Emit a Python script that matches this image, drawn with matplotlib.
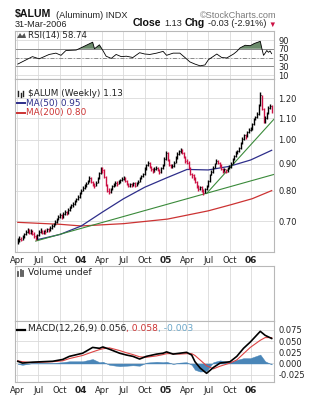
import numpy as np
import pandas as pd
import matplotlib
matplotlib.use('Agg')
import matplotlib.pyplot as plt
import matplotlib.dates as mdates
from matplotlib.lines import Line2D
from matplotlib.patches import Polygon
from matplotlib.text import Annotation
from matplotlib.ticker import NullLocator

# ---------------- data ----------------
week_start = '2003-04-04'
closes = [
    0.640, 0.648, 0.645, 0.652,
    0.660, 0.668, 0.672, 0.665, 0.670,
    0.662, 0.655, 0.650, 0.658,
    0.668, 0.672, 0.665, 0.670,
    0.668, 0.675, 0.672, 0.680, 0.685,
    0.690, 0.698, 0.705, 0.712,
    0.718, 0.712, 0.722, 0.728, 0.725,
    0.735, 0.742, 0.750, 0.755,
    0.762, 0.770, 0.778, 0.790,
    0.800, 0.810, 0.818, 0.825, 0.835,
    0.845, 0.830, 0.822, 0.818,
    0.828, 0.845, 0.865, 0.880,
    0.875, 0.850, 0.820, 0.800, 0.795,
    0.805, 0.815, 0.822, 0.828,
    0.825, 0.832, 0.838, 0.842,
    0.845, 0.835, 0.825, 0.818, 0.822,
    0.820, 0.828, 0.818, 0.825,
    0.832, 0.845, 0.852, 0.860,
    0.880, 0.895, 0.905, 0.890, 0.878,
    0.872, 0.880, 0.885, 0.878,
    0.870, 0.882, 0.895, 0.920, 0.945,
    0.915, 0.895, 0.888, 0.892,
    0.905, 0.925, 0.940, 0.950,
    0.958, 0.945, 0.930, 0.912,
    0.905, 0.885, 0.862, 0.855, 0.848,
    0.832, 0.815, 0.805, 0.812,
    0.800, 0.792, 0.805, 0.815,
    0.835, 0.858, 0.870, 0.885, 0.900,
    0.912, 0.905, 0.895, 0.880,
    0.872, 0.878, 0.870, 0.882, 0.888,
    0.900, 0.918, 0.930, 0.945,
    0.950, 0.965, 0.985, 1.005,
    1.020, 1.015, 1.035, 1.045, 1.050,
    1.070, 1.095, 1.105, 1.120,
    1.165, 1.215, 1.145, 1.085,
    1.100, 1.125, 1.150, 1.160, 1.130,
]
highs = [
    0.650, 0.655, 0.654, 0.658,
    0.664, 0.673, 0.678, 0.676, 0.675,
    0.672, 0.666, 0.658, 0.662,
    0.672, 0.678, 0.674, 0.674,
    0.675, 0.679, 0.678, 0.684, 0.690,
    0.695, 0.703, 0.710, 0.718,
    0.725, 0.722, 0.728, 0.734, 0.732,
    0.740, 0.748, 0.756, 0.762,
    0.768, 0.776, 0.784, 0.796,
    0.806, 0.816, 0.824, 0.832, 0.840,
    0.852, 0.848, 0.834, 0.828,
    0.834, 0.850, 0.870, 0.886,
    0.888, 0.878, 0.852, 0.825, 0.808,
    0.810, 0.820, 0.828, 0.834,
    0.834, 0.838, 0.843, 0.848,
    0.852, 0.848, 0.838, 0.828, 0.828,
    0.828, 0.832, 0.830, 0.830,
    0.838, 0.850, 0.858, 0.866,
    0.886, 0.900, 0.912, 0.908, 0.893,
    0.882, 0.886, 0.892, 0.888,
    0.880, 0.888, 0.900, 0.926, 0.952,
    0.948, 0.920, 0.900, 0.898,
    0.910, 0.930, 0.946, 0.956,
    0.965, 0.960, 0.948, 0.932,
    0.918, 0.910, 0.888, 0.866, 0.860,
    0.850, 0.836, 0.820, 0.818,
    0.815, 0.805, 0.810, 0.820,
    0.840, 0.862, 0.876, 0.890, 0.905,
    0.918, 0.915, 0.908, 0.898,
    0.884, 0.884, 0.880, 0.886, 0.894,
    0.906, 0.922, 0.935, 0.950,
    0.958, 0.970, 0.990, 1.012,
    1.028, 1.026, 1.040, 1.052, 1.058,
    1.078, 1.102, 1.112, 1.128,
    1.172, 1.232, 1.220, 1.150,
    1.110, 1.132, 1.158, 1.172, 1.165,
]
lows = [
    0.632, 0.638, 0.640, 0.643,
    0.650, 0.657, 0.664, 0.660, 0.662,
    0.658, 0.650, 0.644, 0.648,
    0.655, 0.664, 0.660, 0.662,
    0.662, 0.666, 0.667, 0.670, 0.677,
    0.682, 0.688, 0.695, 0.702,
    0.708, 0.706, 0.710, 0.718, 0.718,
    0.722, 0.732, 0.740, 0.746,
    0.752, 0.760, 0.768, 0.775,
    0.788, 0.798, 0.806, 0.814, 0.822,
    0.832, 0.826, 0.816, 0.810,
    0.815, 0.826, 0.842, 0.860,
    0.866, 0.845, 0.815, 0.795, 0.788,
    0.792, 0.802, 0.812, 0.818,
    0.818, 0.822, 0.828, 0.834,
    0.838, 0.830, 0.820, 0.812, 0.814,
    0.814, 0.816, 0.812, 0.815,
    0.822, 0.830, 0.842, 0.848,
    0.858, 0.876, 0.890, 0.885, 0.872,
    0.865, 0.868, 0.876, 0.872,
    0.862, 0.866, 0.878, 0.892, 0.916,
    0.910, 0.890, 0.882, 0.884,
    0.888, 0.902, 0.920, 0.935,
    0.945, 0.940, 0.925, 0.905,
    0.898, 0.880, 0.856, 0.846, 0.840,
    0.826, 0.810, 0.798, 0.802,
    0.794, 0.785, 0.790, 0.802,
    0.812, 0.832, 0.855, 0.866, 0.882,
    0.898, 0.900, 0.888, 0.875,
    0.866, 0.868, 0.864, 0.868, 0.878,
    0.885, 0.898, 0.915, 0.928,
    0.940, 0.948, 0.962, 0.982,
    1.000, 1.005, 1.012, 1.030, 1.038,
    1.045, 1.065, 1.090, 1.100,
    1.115, 1.160, 1.140, 1.075,
    1.078, 1.095, 1.120, 1.145, 1.125,
]

ma50_dates = ['2003-06-27', '2003-10-03', '2004-01-02', '2004-04-02', '2004-07-02',
              '2004-10-01', '2004-12-31', '2005-04-01', '2005-07-01', '2005-09-30',
              '2005-12-30', '2006-03-31']
ma50 = [0.645, 0.660, 0.685, 0.728, 0.772, 0.812, 0.845, 0.878, 0.876, 0.890, 0.915, 0.955]

ma200_dates = ['2003-04-04', '2003-10-03', '2004-01-02', '2004-07-02', '2005-01-07',
               '2005-07-01', '2005-10-07', '2006-01-06', '2006-03-31']
ma200 = [0.696, 0.690, 0.685, 0.692, 0.706, 0.732, 0.752, 0.772, 0.800]

trend1_dates = ['2003-06-20', '2006-04-14']
trend1_vals = [0.641, 0.86]
trend2_dates = ['2005-06-24', '2006-04-14']
trend2_vals = [0.79, 1.10]

rsi_dates = ['2003-04-04', '2003-06-06', '2003-07-05', '2003-08-17', '2003-09-15', '2003-10-07',
             '2003-10-28', '2003-12-11', '2004-01-08', '2004-02-20', '2004-02-28', '2004-03-20',
             '2004-04-04', '2004-04-18', '2004-05-10', '2004-05-31', '2004-06-22', '2004-07-14',
             '2004-08-11', '2004-09-09', '2004-10-01', '2004-10-23', '2004-11-21', '2004-12-19',
             '2005-01-03', '2005-01-31', '2005-03-01', '2005-03-23', '2005-04-13', '2005-05-05',
             '2005-05-27', '2005-06-17', '2005-07-02', '2005-08-07', '2005-08-28', '2005-09-19',
             '2005-10-18', '2005-11-01', '2005-11-15', '2005-12-07', '2005-12-29', '2006-01-15',
             '2006-02-10', '2006-02-17', '2006-02-24', '2006-03-03', '2006-03-10', '2006-03-17',
             '2006-03-24', '2006-03-31']
rsi_vals = [35, 52, 47, 57, 60, 55,
            66, 67, 74, 85, 70, 79,
            66, 53, 48, 57, 52, 53,
            50, 61, 58, 57, 60, 64,
            55, 60, 60, 50, 40, 35,
            31, 33, 45, 58, 50, 49,
            58, 64, 72, 78, 77, 82,
            87, 70, 55, 60, 66, 62, 65, 58.74]

macd_dates = ['2003-04-04', '2003-04-24', '2003-06-06', '2003-07-19', '2003-09-01', '2003-10-14',
              '2003-11-12', '2004-01-08', '2004-02-20', '2004-03-20', '2004-04-04', '2004-05-02',
              '2004-06-15', '2004-07-14', '2004-08-11', '2004-09-09', '2004-10-08', '2004-11-21',
              '2004-12-19', '2005-01-03', '2005-01-31', '2005-03-01', '2005-03-30', '2005-04-21',
              '2005-05-05', '2005-05-27', '2005-06-24', '2005-07-23', '2005-08-21', '2005-10-03',
              '2005-11-01', '2005-11-30', '2005-12-29', '2006-02-10', '2006-03-03', '2006-03-31']
macd_vals = [0.005, 0.001, 0.003, 0.004, 0.005, 0.009,
             0.016, 0.023, 0.036, 0.034, 0.037, 0.032,
             0.023, 0.019, 0.016, 0.010, 0.016, 0.021,
             0.023, 0.026, 0.021, 0.023, 0.025, 0.019,
             0.004, -0.010, -0.022, -0.009, 0.001, 0.004,
             0.016, 0.034, 0.048, 0.072, 0.063, 0.056]
signal_vals = [0.006, 0.004, 0.002, 0.003, 0.004, 0.006,
               0.011, 0.018, 0.026, 0.031, 0.033, 0.035,
               0.029, 0.024, 0.020, 0.015, 0.014, 0.017,
               0.020, 0.022, 0.022, 0.021, 0.022, 0.022,
               0.018, 0.008, -0.005, -0.012, -0.006, 0.001,
               0.008, 0.022, 0.036, 0.052, 0.058, 0.058]

quarter_dates = ['2003-04-01', '2003-07-01', '2003-10-01', '2004-01-01', '2004-04-01', '2004-07-01',
                 '2004-10-01', '2005-01-01', '2005-04-01', '2005-07-01', '2005-10-01', '2006-01-01']
quarter_labels = ['Apr', 'Jul', 'Oct', '04', 'Apr', 'Jul', 'Oct', '05', 'Apr', 'Jul', 'Oct', '06']
price_ticks = [0.70, 0.80, 0.90, 1.00, 1.10, 1.20]
rsi_ticks = [10, 30, 50, 70, 90]
macd_ticks = [-0.025, 0.0, 0.025, 0.050, 0.075]

# ---------------- figure ----------------
W, H = 309, 400
fig = plt.figure(figsize=(W / 100, H / 100), dpi=100)
fig.patch.set_facecolor('white')


def rect(x0, y0, x1, y1):
    return [x0 / W, 1 - y1 / H, (x1 - x0) / W, (y1 - y0) / H]


L, R = 15, 274
ax_rsi = fig.add_axes(rect(L, 31, R, 79))
ax_main = fig.add_axes(rect(L, 79, R, 252))
ax_vol = fig.add_axes(rect(L, 266, R, 321))
ax_macd = fig.add_axes(rect(L, 321, R, 382))

d2n = lambda lst: mdates.date2num(pd.to_datetime(lst))
xmin, xmax = d2n(['2003-03-23'])[0], d2n(['2006-04-10'])[0]
qnum = d2n(quarter_dates)

GRID = '#dadada'
SPINE = '#b8b8b8'
for ax in (ax_rsi, ax_main, ax_vol, ax_macd):
    ax.set_facecolor('white')
    for s in ax.spines.values():
        s.set_color(SPINE)
        s.set_linewidth(0.8)
    ax.set_xlim(xmin, xmax)
    ax.set_xticks(qnum)
    ax.set_xticklabels(quarter_labels)
    ax.xaxis.set_minor_locator(NullLocator())
    ax.yaxis.tick_right()
    ax.tick_params(length=0, labelsize=6, colors='#222222', pad=3)
    ax.grid(True, axis='x', color=GRID, lw=0.6)
    ax.set_axisbelow(True)
    for lab in ax.get_xticklabels():
        if lab.get_text().isdigit():
            lab.set_fontweight('bold')
            lab.set_fontsize(6.5)

for ax in (ax_rsi, ax_vol):
    ax.tick_params(labelbottom=False)
ax_vol.set_yticks([])

# ---- RSI ----
rd = d2n(rsi_dates)
rv = np.array(rsi_vals, dtype=float)
ax_rsi.set_ylim(0.9, 110.6)
ax_rsi.set_yticks(rsi_ticks)
ax_rsi.grid(True, axis='y', color=GRID, lw=0.6)
ax_rsi.axhline(70, color='#8a8a8a', lw=0.7)
ax_rsi.axhline(30, color='#8a8a8a', lw=0.7)
ax_rsi.axhline(50, color='#8a8a8a', lw=0.7, ls=(0, (4, 2, 1, 2)))
ax_rsi.fill_between(rd, rv, 70, where=rv >= 70, interpolate=True, color='#6a8a6a', lw=0)
ax_rsi.plot(rd, rv, color='black', lw=0.6)

# ---- main price ----
wk = d2n(pd.date_range(week_start, periods=len(closes), freq='7D'))
c = np.array(closes)
prev = np.r_[c[0], c[:-1]]
cols = np.where(c >= prev, '#000000', '#cc1144')
ax_main.set_yscale('log')
ax_main.set_ylim(0.611, 1.306)
ax_main.set_yticks(price_ticks)
ax_main.set_yticklabels(['%.2f' % v for v in price_ticks])
ax_main.yaxis.set_minor_locator(NullLocator())
ax_main.grid(True, axis='y', color=GRID, lw=0.6)

ax_main.plot(d2n(ma200_dates), ma200, color='#cc3333', lw=0.9)
ax_main.plot(d2n(ma50_dates), ma50, color='#2e2e8a', lw=0.9)
ax_main.plot(d2n(trend1_dates), trend1_vals, color='#3a8a3a', lw=0.8)
ax_main.plot(d2n(trend2_dates), trend2_vals, color='#3a8a3a', lw=0.8)
ax_main.vlines(wk, lows, highs, colors=cols, lw=1.0)
ax_main.hlines(c, wk, wk + 3, colors=cols, lw=0.7)

# ---- MACD ----
md = d2n(macd_dates)
mv = np.array(macd_vals)
sv = np.array(signal_vals)
hist = mv - sv
ax_macd.set_ylim(-0.0414, 0.0951)
ax_macd.set_yticks(macd_ticks)
ax_macd.set_yticklabels(['%.3f' % v for v in macd_ticks])
ax_macd.grid(True, axis='y', color=GRID, lw=0.6)
ax_macd.fill_between(md, hist, 0, color='#4a86b8', lw=0.3, edgecolor='#4a86b8')
ax_macd.plot(md, sv, color='#dd4444', lw=0.8)
ax_macd.plot(md, mv, color='black', lw=1.2)

# ---------------- texts ----------------
def fx(x):
    return x / W


def fy(y):
    return 1 - y / H


def chain(x, y, pieces, family):
    s, col, w, sz, gap = pieces[0]
    t = fig.text(fx(x), fy(y), s, color=col, fontweight=w, fontsize=sz, family=family, va='bottom')
    for s, col, w, sz, gap in pieces[1:]:
        a = Annotation(s, xy=(1, 0), xycoords=t, xytext=(gap, 0), textcoords='offset points',
                       color=col, fontweight=w, fontsize=sz, family=family, va='bottom')
        fig.add_artist(a)
        t = a
    return t


SANS = ['Liberation Sans', 'DejaVu Sans']
fig.text(fx(15), fy(17.5), '$ALUM', fontsize=7.6, fontweight='bold', family=SANS, va='baseline', color='#111111')
fig.text(fx(55.5), fy(17.5), '(Aluminum) INDX', fontsize=6.6, family=SANS, va='baseline', color='#222222')
fig.text(fx(276), fy(17.5), '\u00a9StockCharts.com', fontsize=6.6, family=SANS, va='baseline', ha='right',
         color='#7a7a7a')
fig.text(fx(15), fy(27), '31-Mar-2006', fontsize=6.6, family=SANS, va='baseline', color='#222222')
chain(133, 28.5, [('Close', '#111111', 'bold', 7.6, 0), ('1.13', '#222222', 'normal', 6.6, 1.8),
                  ('Chg', '#111111', 'bold', 7.6, 2.2), ('-0.03 (-2.91%)', '#222222', 'normal', 6.6, 1.8),
                  ('\u25bc', '#cc1144', 'normal', 5.5, 2.0)], SANS)

# RSI legend
fig.add_artist(Polygon([[fx(17), fy(38)], [fx(20), fy(33)], [fx(22), fy(36)], [fx(24.5), fy(33)],
                        [fx(26), fy(38)]], closed=True, color='#555555', lw=0))
fig.text(fx(28), fy(35.5), 'RSI(14) 58.74', fontsize=6.2, va='center', color='#222222')

# main legend
for xx, y0, y1 in [(18, 96, 91), (20.5, 97, 92.5), (23, 95.5, 90.5)]:
    fig.add_artist(Line2D([fx(xx), fx(xx)], [fy(y0), fy(y1)], color='#222222', lw=1.0))
fig.text(fx(28), fy(94), '$ALUM (Weekly) 1.13', fontsize=6.4, va='center', color='#222222')
fig.add_artist(Line2D([fx(17), fx(25)], [fy(103.3), fy(103.3)], color='#2e2e8a', lw=1.4))
fig.text(fx(26), fy(103.3), 'MA(50) 0.95', fontsize=6.4, va='center', color='#2e2e8a')
fig.add_artist(Line2D([fx(17), fx(25)], [fy(112.7), fy(112.7)], color='#cc3333', lw=1.4))
fig.text(fx(26), fy(112.7), 'MA(200) 0.80', fontsize=6.4, va='center', color='#cc3333')

# volume legend
for xx, y0, y1 in [(18, 276, 272), (20.5, 276, 269.5), (23, 276, 271)]:
    fig.add_artist(Line2D([fx(xx), fx(xx)], [fy(y0), fy(y1)], color='#555555', lw=1.3))
fig.text(fx(28), fy(272.5), 'Volume undef', fontsize=6.6, va='center', color='#222222')

# MACD legend
fig.add_artist(Line2D([fx(17), fx(25)], [fy(329.5), fy(329.5)], color='black', lw=1.6))
chain(28, 333.5, [('MACD(12,26,9) 0.056', '#222222', 'normal', 6.6, 0),
                  (', 0.058', '#cc3333', 'normal', 6.6, 0),
                  (', -0.003', '#6aa6c8', 'normal', 6.6, 0)], 'DejaVu Sans')

fig.savefig('out.png', dpi=100, facecolor='white')
